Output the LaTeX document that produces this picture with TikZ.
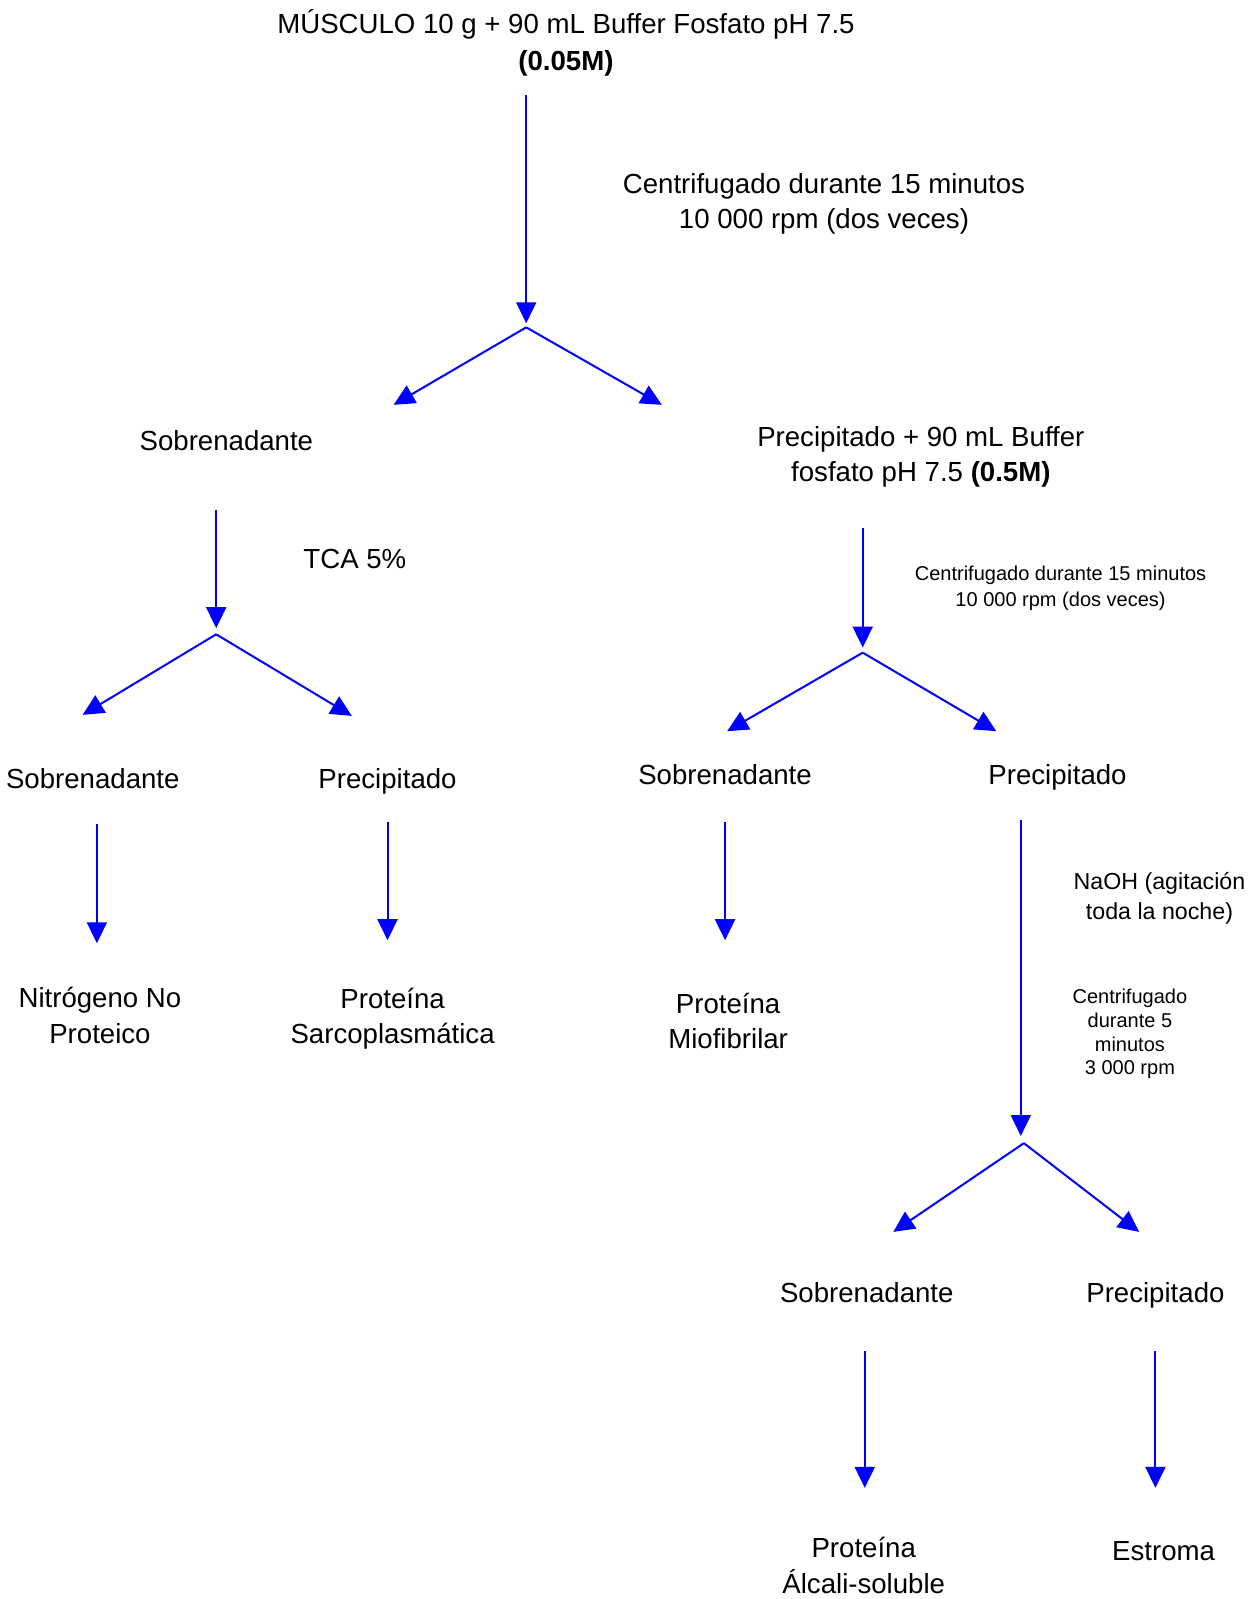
\documentclass[tikz,border=0pt]{standalone}
\usepackage{fontspec}
\setmainfont{Liberation Sans}
\usetikzlibrary{arrows.meta}
\definecolor{flowblue}{RGB}{0,0,255}

\begin{document}
\begin{tikzpicture}[
    x=0.5097pt, y=-0.5097pt,
    txt/.style={align=center, inner sep=0pt, font=\fontsize{13.8}{17.8}\selectfont},
    note/.style={txt, font=\fontsize{10}{13.3}\selectfont},
    notecol/.style={txt, font=\fontsize{10}{11.9}\selectfont},
    naohtxt/.style={txt, font=\fontsize{11.6}{14.8}\selectfont},
    arr/.style={draw=flowblue, line width=1pt, -{Triangle[length=10.5pt, width=10pt]}}
]
\useasboundingbox (0,0) rectangle (1235,1568);

% Start
\node[txt, font=\fontsize{13.8}{18.4}\selectfont] (musculo) at (555,42)
  {MÚSCULO 10 g + 90 mL Buffer Fosfato pH 7.5\\\textbf{(0.05M)}};
\node[txt] (cent1) at (808,200) {Centrifugado durante 15 minutos\\10 000 rpm (dos veces)};

% First split
\coordinate (s1top) at (516,93);
\coordinate (s1end) at (516,317);
\coordinate (v1) at (516,321);
\coordinate (v1l) at (386,397);
\coordinate (v1r) at (649,397);
\draw[arr] (s1top) -- (s1end);
\draw[arr] (v1) -- (v1l);
\draw[arr] (v1) -- (v1r);

\node[txt] (sob1) at (222,432) {Sobrenadante};
\node[txt] (prec1) at (903,448) {Precipitado + 90 mL Buffer\\fosfato pH 7.5 \textbf{(0.5M)}};

% Left branch: TCA
\node[txt] (tca) at (348,548) {TCA 5\%};
\coordinate (s2top) at (212,500);
\coordinate (s2end) at (212,616);
\coordinate (v2) at (212,622);
\coordinate (v2l) at (81,701);
\coordinate (v2r) at (345,702);
\draw[arr] (s2top) -- (s2end);
\draw[arr] (v2) -- (v2l);
\draw[arr] (v2) -- (v2r);

% Right branch: second centrifugation
\node[note] (cent2) at (1040,577) {Centrifugado durante 15 minutos\\10 000 rpm (dos veces)};
\coordinate (s3top) at (846,518);
\coordinate (s3end) at (846,635);
\coordinate (v3) at (846,640);
\coordinate (v3l) at (713,717);
\coordinate (v3r) at (977,717);
\draw[arr] (s3top) -- (s3end);
\draw[arr] (v3) -- (v3l);
\draw[arr] (v3) -- (v3r);

% Second row
\node[txt] (sob2) at (91,764) {Sobrenadante};
\node[txt] (prec2) at (380,766) {Precipitado};
\node[txt] (sob3) at (711,760) {Sobrenadante};
\node[txt] (prec3) at (1037,762) {Precipitado};

\coordinate (a1top) at (95,808);   \coordinate (a1end) at (95,925);
\coordinate (a2top) at (380,806);  \coordinate (a2end) at (380,922);
\coordinate (a3top) at (711,806);  \coordinate (a3end) at (711,922);
\coordinate (a4top) at (1001,804); \coordinate (a4end) at (1001,1114);
\draw[arr] (a1top) -- (a1end);
\draw[arr] (a2top) -- (a2end);
\draw[arr] (a3top) -- (a3end);
\draw[arr] (a4top) -- (a4end);

\node[txt] (npn) at (98,996) {Nitrógeno No\\Proteico};
\node[txt] (sarc) at (385,999) {Proteína\\Sarcoplasmática};
\node[txt] (mio) at (714,1001) {Proteína\\Miofibrilar};

\node[naohtxt] (naoh) at (1137,881) {NaOH (agitación\\toda la noche)};
\node[notecol] (cent3) at (1108,1014) {Centrifugado\\durante 5\\minutos\\3 000 rpm};

% Last split
\coordinate (v4) at (1004,1121);
\coordinate (v4l) at (876,1208);
\coordinate (v4r) at (1117,1208);
\draw[arr] (v4) -- (v4l);
\draw[arr] (v4) -- (v4r);

\node[txt] (sob4) at (850,1268) {Sobrenadante};
\node[txt] (prec4) at (1133,1270) {Precipitado};

\coordinate (a5top) at (848,1325);  \coordinate (a5end) at (848,1459);
\coordinate (a6top) at (1133,1325); \coordinate (a6end) at (1133,1459);
\draw[arr] (a5top) -- (a5end);
\draw[arr] (a6top) -- (a6end);

\node[txt] (alcali) at (847,1535) {Proteína\\Álcali-soluble};
\node[txt] (estroma) at (1141,1521) {Estroma};
\end{tikzpicture}
\end{document}
